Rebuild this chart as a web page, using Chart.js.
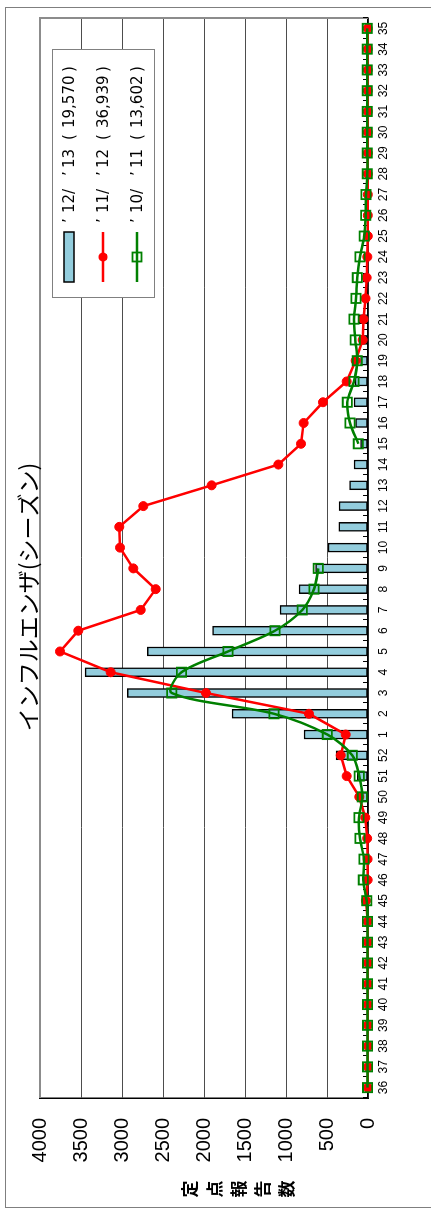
<!DOCTYPE html>
<html lang="ja">
<head>
<meta charset="utf-8">
<script src="https://cdn.jsdelivr.net/npm/chart.js@4.4.1/dist/chart.umd.min.js"></script>
<style>
  html, body { margin: 0; padding: 0; background: #fff; overflow: hidden; }
  #wrap {
    position: absolute; left: 0; top: 0;
    width: 1209px; height: 431px;
    transform-origin: 0 0;
    transform: translateY(1209px) rotate(-90deg);
  }
  canvas { display: block; }
</style>
</head>
<body>
<div id="wrap"><canvas id="c" width="1209" height="431"></canvas></div>
<script>
// Week numbers of the season, from week 36 through week 35 of the following year
const weeks = ['36','37','38','39','40','41','42','43','44','45','46','47','48','49','50','51','52',
  '1','2','3','4','5','6','7','8','9','10','11','12','13','14','15','16','17','18','19','20',
  '21','22','23','24','25','26','27','28','29','30','31','32','33','34','35'];

// Sentinel reports per week, 2012/13 season (reported so far)
const season1213 = [3,3,4,4,5,5,6,7,8,10,12,15,20,45,90,130,390,
  780,1658,2935,3449,2691,1894,1073,841,640,488,357,354,225,171,92,150,171,159,90,100,
  110,38,57,20,null,null,null,null,null,null,null,null,null,null,null];

// 2011/12 season
const season1112 = [2,2,2,2,2,2,3,3,3,25,4,5,10,33,106,260,333,
  272,720,1976,3138,3756,3533,2772,2589,2862,3024,3033,2740,1907,1093,817,785,549,260,150,65,
  55,30,16,8,2,2,2,2,2,2,2,2,2,2,2];

// 2010/11 season (weeks 10-14 not reported)
const season1011 = [5,5,5,5,5,5,5,5,6,16,57,49,98,110,69,106,191,
  496,1146,2394,2275,1707,1134,801,659,606,null,null,null,null,null,118,220,252,171,130,155,
  171,146,130,98,45,28,24,8,8,8,8,8,8,8,8];

const seriesLabels = ['’12/’13', '’11/’12', '’10/’11'];
const seriesTotals = ['19,570', '36,939', '13,602'];
const yTicks = [0, 500, 1000, 1500, 2000, 2500, 3000, 3500, 4000];

const titleText = 'インフルエンザ(シーズン)';
const yTitle = '定点報告数';

const BAR_FILL = '#93CDDD';
const RED = '#FF0000';
const GREEN = '#008000';

// legend label: ’YY/’YY  (total), each piece placed at its own offset
function drawLegendText(ctx, label, total, x, y) {
  const m = label.match(/^(’)(\d+\/)(’)(\d+)$/);
  const pieces = m
    ? [[m[1], 0], [m[2], 10], [m[3], 47], [m[4], 55]]
    : [[label, 0]];
  pieces.push(['(', 83], [total, 95], [')', 151]);
  pieces.forEach(([t, dx]) => ctx.fillText(t, x + dx, y));
}

const decorations = {
  id: 'decorations',
  beforeDraw(chart) {
    const ctx = chart.ctx;
    ctx.save();
    ctx.fillStyle = '#fff';
    ctx.fillRect(0, 0, chart.width, chart.height);
    ctx.strokeStyle = '#7f7f7f';
    ctx.lineWidth = 1;
    ctx.strokeRect(1.5, 5.5, 1200, 460);
    ctx.restore();
  },
  beforeDatasetsDraw(chart) {
    const { ctx, chartArea: a } = chart;
    const xs = chart.scales.x;
    ctx.save();
    // grey frame on the far sides of the plot area
    ctx.strokeStyle = '#8c8c8c';
    ctx.lineWidth = 2;
    ctx.beginPath();
    ctx.moveTo(a.left, a.top);
    ctx.lineTo(a.right, a.top);
    ctx.lineTo(a.right, a.bottom);
    ctx.stroke();
    // short inner tick marks between weeks
    ctx.strokeStyle = '#000';
    ctx.lineWidth = 1;
    ctx.beginPath();
    const n = weeks.length;
    for (let i = 0; i <= n; i++) {
      let px;
      if (i === 0) px = xs.getPixelForValue(0) - (xs.getPixelForValue(1) - xs.getPixelForValue(0)) / 2;
      else if (i === n) px = xs.getPixelForValue(n - 1) + (xs.getPixelForValue(n - 1) - xs.getPixelForValue(n - 2)) / 2;
      else px = (xs.getPixelForValue(i - 1) + xs.getPixelForValue(i)) / 2;
      px = Math.round(px) + 0.5;
      ctx.moveTo(px, a.bottom);
      ctx.lineTo(px, a.bottom - 5);
    }
    ctx.stroke();
    ctx.restore();
  },
  afterDraw(chart) {
    const ctx = chart.ctx;
    ctx.save();
    ctx.fillStyle = '#000';
    ctx.textAlign = 'center';
    ctx.textBaseline = 'middle';

    // chart title
    ctx.font = '23px "Noto Sans CJK JP"';
    ctx.fillText(titleText, 612, 28);

    // value axis title, one character per line
    ctx.font = 'bold 17px "Noto Sans CJK JP"';
    Array.from(yTitle).forEach((ch, i) => ctx.fillText(ch, 20, 190 + i * 24.2));

    // legend
    const lx = 911, ly = 52, lw = 248, lh = 102;
    ctx.fillStyle = '#fff';
    ctx.fillRect(lx, ly, lw, lh);
    ctx.strokeStyle = '#808080';
    ctx.lineWidth = 1;
    ctx.strokeRect(lx + 0.5, ly + 0.5, lw, lh);

    const rowY = [69, 103, 137];
    const sx0 = 927, sx1 = 977, sxm = 952;

    // bar swatch
    ctx.fillStyle = BAR_FILL;
    ctx.fillRect(sx0, rowY[0] - 5, sx1 - sx0, 10);
    ctx.strokeStyle = '#000';
    ctx.lineWidth = 1.5;
    ctx.strokeRect(sx0, rowY[0] - 5, sx1 - sx0, 10);

    // red line with dot
    ctx.strokeStyle = RED;
    ctx.lineWidth = 2.5;
    ctx.beginPath();
    ctx.moveTo(sx0, rowY[1]); ctx.lineTo(sx1, rowY[1]);
    ctx.stroke();
    ctx.fillStyle = RED;
    ctx.beginPath();
    ctx.arc(sxm, rowY[1], 4.5, 0, Math.PI * 2);
    ctx.fill();

    // green line with open square
    ctx.strokeStyle = GREEN;
    ctx.lineWidth = 2.5;
    ctx.beginPath();
    ctx.moveTo(sx0, rowY[2]); ctx.lineTo(sx1, rowY[2]);
    ctx.stroke();
    ctx.lineWidth = 1.8;
    ctx.strokeRect(sxm - 4.5, rowY[2] - 4.5, 9, 9);

    ctx.fillStyle = '#000';
    ctx.textAlign = 'left';
    ctx.font = '15px "DejaVu Sans", "Noto Sans CJK JP"';
    rowY.forEach((y, i) => drawLegendText(ctx, seriesLabels[i], seriesTotals[i], 986, y + 1));
    ctx.restore();
  }
};

new Chart(document.getElementById('c'), {
  type: 'bar',
  data: {
    labels: weeks,
    datasets: [
      {
        type: 'bar',
        label: seriesLabels[0],
        data: season1213,
        backgroundColor: BAR_FILL,
        borderColor: '#000',
        borderWidth: 1.5,
        borderSkipped: false,
        barThickness: 9,
        order: 3
      },
      {
        type: 'line',
        label: seriesLabels[1],
        data: season1112,
        borderColor: RED,
        backgroundColor: RED,
        borderWidth: 2.5,
        pointStyle: 'circle',
        pointRadius: 4.5,
        pointBorderWidth: 1,
        pointBackgroundColor: RED,
        pointBorderColor: RED,
        tension: 0,
        clip: false,
        order: 2
      },
      {
        type: 'line',
        label: seriesLabels[2],
        data: season1011,
        borderColor: GREEN,
        backgroundColor: 'rgba(0,0,0,0)',
        borderWidth: 2.5,
        pointStyle: 'rect',
        pointRadius: 6.5,
        pointBorderWidth: 1.8,
        pointBackgroundColor: 'rgba(0,0,0,0)',
        pointBorderColor: GREEN,
        tension: 0.3,
        spanGaps: false,
        clip: false,
        order: 1
      }
    ]
  },
  options: {
    responsive: false,
    animation: false,
    devicePixelRatio: 1,
    layout: { padding: { top: 40, right: 18, left: 0, bottom: 0 } },
    plugins: {
      legend: { display: false },
      tooltip: { enabled: false },
      title: { display: false }
    },
    scales: {
      x: {
        type: 'category',
        offset: true,
        grid: { display: false, drawTicks: false },
        border: { display: true, color: '#000', width: 1.5 },
        ticks: {
          autoSkip: false, maxRotation: 0, minRotation: 0, padding: 8,
          color: '#000', font: { family: 'Liberation Sans', size: 12 }
        },
        afterFit(s) { s.height = 63; }
      },
      y: {
        min: yTicks[0],
        max: yTicks[yTicks.length - 1],
        afterBuildTicks(s) { s.ticks = yTicks.map(v => ({ value: v })); },
        grid: { color: '#4d4d4d', lineWidth: 1, drawTicks: false },
        border: { display: true, color: '#000', width: 1.5 },
        ticks: {
          padding: 20, color: '#000',
          font: { family: 'Liberation Sans', size: 20 },
          callback: v => String(v)
        },
        afterFit(s) { s.width = 111; }
      }
    }
  },
  plugins: [decorations]
});
</script>
</body>
</html>
